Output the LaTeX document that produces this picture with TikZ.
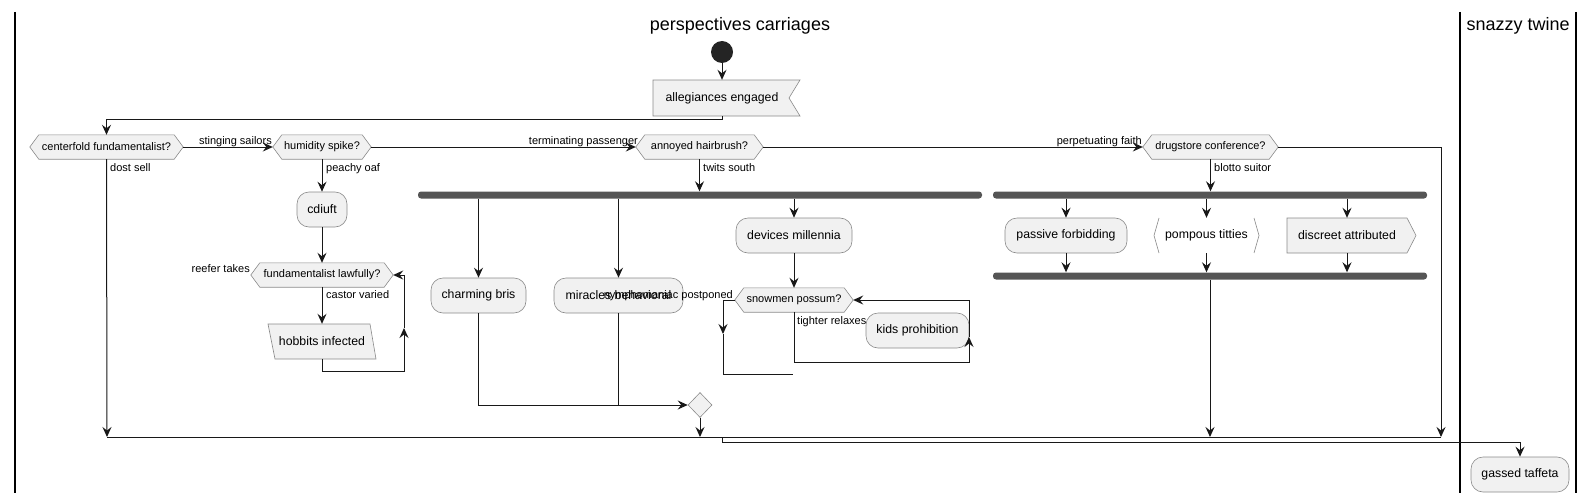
\documentclass[tikz,border=0pt]{standalone}
\usepackage{fontspec}
\setmainfont{Liberation Sans}
\usetikzlibrary{arrows.meta,shapes.geometric,backgrounds,calc}
\definecolor{nfill}{HTML}{F1F1F1}
\definecolor{ln}{HTML}{181818}
\definecolor{barc}{HTML}{555555}
\definecolor{bd}{HTML}{8A8A8A}
\newcommand\hexnd[5]{%
  \node[htxt, minimum width=#4pt, minimum height=24pt] (#1) at (#2,#3) {#5};
  \begin{scope}[on background layer]
    \path[shp] (#1.west) -- ([xshift=9pt]#1.north west) -- ([xshift=-9pt]#1.north east) -- (#1.east) -- ([xshift=-9pt]#1.south east) -- ([xshift=9pt]#1.south west) -- cycle;
  \end{scope}}
\begin{document}
\begin{tikzpicture}[x=1pt,y=-1pt,
  flow/.style={draw=ln, line width=1pt},
  arr/.style={flow,-{Stealth[length=10pt,width=9pt,inset=3.5pt]}},
  txt/.style={font=\fontsize{12.3}{14}\selectfont, inner sep=0pt},
  htxt/.style={font=\fontsize{11}{13}\selectfont, inner sep=0pt},
  act/.style={txt, draw=bd, fill=nfill, rounded corners=12pt, line width=0.6pt},
  shp/.style={draw=bd, fill=nfill, line width=0.6pt},
  lbl/.style={font=\fontsize{11}{13}\selectfont, inner sep=0pt},
  barbox/.style={fill=barc, draw=none, rounded corners=3pt, inner sep=0pt, minimum height=7pt},
  lane/.style={draw=black, line width=1.4pt},
]
\useasboundingbox (0,0) rectangle (1594,503);

% swimlanes
\draw[lane] (15,12) -- (15,493);
\draw[lane] (1460,12) -- (1460,493);
\draw[lane] (1576,12) -- (1576,493);
\node[font=\fontsize{18}{22}\selectfont, inner sep=0pt] (t1) at (740,26) {perspectives carriages};
\node[font=\fontsize{18}{22}\selectfont, inner sep=0pt] (t2) at (1518,26) {snazzy twine};

% start and first box
\node[circle, fill=ln!95, minimum size=22pt, inner sep=0pt] (start) at (722,52) {};
\node[txt, minimum width=138pt, minimum height=36pt] (alleg) at (722,98) {allegiances engaged};
\begin{scope}[on background layer]
\path[shp] (653,80) -- (800,80) -- (789,98) -- (800,116) -- (653,116) -- cycle;
\end{scope}

% decisions
\hexnd{cf}{106.5}{147}{153}{centerfold fundamentalist?}
\hexnd{hum}{322}{147}{98}{humidity spike?}
\hexnd{ann}{699.5}{147}{127}{annoyed hairbrush?}
\hexnd{drug}{1210.5}{147}{135}{drugstore conference?}
\hexnd{law}{322}{275}{142}{fundamentalist lawfully?}
\hexnd{snow}{794}{300}{118}{snowmen possum?}

% activities
\node[act, minimum width=50pt, minimum height=35pt] (cdi) at (322,209.5) {cdiuft};
\node[txt, minimum width=100pt, minimum height=35pt] (hob) at (322,341.5) {hobbits infected};
\begin{scope}[on background layer]
\path[shp] (268,324) -- (370,324) -- (376,359) -- (275,359) -- cycle;
\end{scope}
\node[act, minimum width=95pt, minimum height=35pt] (charm) at (478.5,295.5) {charming bris};
\node[act, minimum width=129pt, minimum height=35pt] (mir) at (618.5,295.5) {miracles behavioral};
\node[act, minimum width=116pt, minimum height=35pt] (dev) at (794,235.5) {devices millennia};
\node[act, minimum width=103pt, minimum height=35pt] (kids) at (917.5,330.5) {kids prohibition};
\node[act, minimum width=122pt, minimum height=35pt] (pas) at (1066,235.5) {passive forbidding};
\node[txt, minimum width=105pt, minimum height=35pt] (pom) at (1206.5,235.5) {pompous titties};
\draw[draw=bd, line width=0.6pt] (1159,218) -- (1154,235.5) -- (1159,253);
\draw[draw=bd, line width=0.6pt] (1254,218) -- (1259,235.5) -- (1254,253);
\node[txt, minimum width=120pt, minimum height=35pt] (dis) at (1347,235.5) {discreet attributed};
\begin{scope}[on background layer]
\path[shp] (1287,218) -- (1407,218) -- (1416,235.5) -- (1407,253) -- (1287,253) -- cycle;
\end{scope}
\node[act, minimum width=98pt, minimum height=35pt] (gas) at (1520,474.5) {gassed taffeta};

% bars and merge
\node[barbox, minimum width=564pt] (fork1) at (700,195) {};
\node[barbox, minimum width=434pt] (fork2) at (1210,195) {};
\node[barbox, minimum width=434pt] (join2) at (1210,276) {};
\node[diamond, shp, minimum width=24pt, minimum height=25pt, inner sep=0pt] (mg) at (700,405) {};

% labels
\node[lbl, anchor=base east] (l1) at (272,144) {stinging sailors};
\node[lbl, anchor=base east] (l2) at (638,144) {terminating passenger};
\node[lbl, anchor=base east] (l3) at (1142,144) {perpetuating faith};
\node[lbl, anchor=base west] (l4) at (110,171) {dost sell};
\node[lbl, anchor=base west] (l5) at (326,171) {peachy oaf};
\node[lbl, anchor=base west] (l6) at (703,171) {twits south};
\node[lbl, anchor=base west] (l7) at (1214,171) {blotto suitor};
\node[lbl, anchor=base east] (l8) at (250,272) {reefer takes};
\node[lbl, anchor=base west] (l9) at (326,298) {castor varied};
\node[lbl, anchor=base east] (l10) at (733,298) {nymphomaniac postponed};
\node[lbl, anchor=base west] (l11) at (797,324) {tighter relaxes};

% coordinates
\coordinate (mL) at (107,437);
\coordinate (mR) at (1441,437);
\coordinate (mm) at (722,437);
\coordinate (hl1) at (404,371);
\coordinate (hl2) at (404,328);
\coordinate (sl1) at (723,334);
\coordinate (sl2) at (793,374);
\coordinate (sr1) at (969,362);
\coordinate (sr2) at (969,337);

% connectors
\draw[arr] (start) -- (alleg);
\draw[arr] (alleg.south) -- ++(0,3) -| (cf.north);
\draw[arr] (cf.east) -- (hum.west);
\draw[arr] (hum.east) -- (ann.west);
\draw[arr] (ann.east) -- (drug.west);
\draw[arr] (drug.east) -| (mR);
\draw[arr] (cf.south) -- (mL);
\draw[flow] (mL) -- (mR);

\draw[arr] (hum.south) -- (cdi.north);
\draw[arr] (cdi.south) -- (law.north);
\draw[arr] (law.south) -- (hob.north);
\draw[arr] (hob.south) |- (hl1) -- (hl2);
\draw[arr] (hl2) |- (law.east);

\draw[arr] (ann.south) -- (ann.south |- fork1.north);
\draw[arr] (charm.north |- fork1.south) -- (charm.north);
\draw[arr] (mir.north |- fork1.south) -- (mir.north);
\draw[arr] (dev.north |- fork1.south) -- (dev.north);
\draw[arr] (dev.south) -- (snow.north);
\draw[arr] (snow.west) -| (sl1);
\draw[flow] (sl1) |- (sl2);
\draw[arr] (snow.south) |- (sr1) -- (sr2);
\draw[arr] (sr2) |- (snow.east);
\draw[arr] (charm.south) |- (mg.west);
\draw[flow] (mir.south) -- (mir.south |- mg.west);
\draw[arr] (mg.south) -- (mg.south |- mL);

\draw[arr] (drug.south) -- (drug.south |- fork2.north);
\draw[arr] (pas.north |- fork2.south) -- (pas.north);
\draw[arr] (pom.north |- fork2.south) -- (pom.north);
\draw[arr] (dis.north |- fork2.south) -- (dis.north);
\draw[arr] (pas.south) -- (pas.south |- join2.north);
\draw[arr] (pom.south) -- (pom.south |- join2.north);
\draw[arr] (dis.south) -- (dis.south |- join2.north);
\draw[arr] (join2.south) -- (join2.south |- mR);

\draw[arr] (mm) -- ++(0,5) -| (gas.north);
\end{tikzpicture}
\end{document}
